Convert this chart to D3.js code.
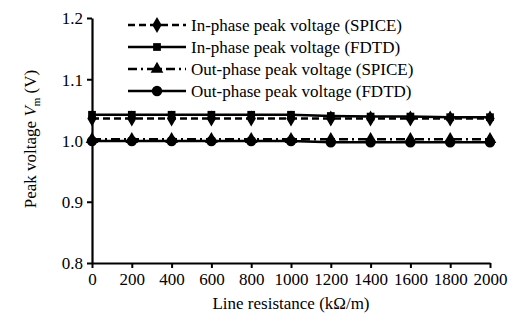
<!DOCTYPE html>
<html><head><meta charset="utf-8">
<script src="https://cdn.jsdelivr.net/npm/d3@7"></script>
<style>body{margin:0;background:#fff}</style>
</head><body><svg id="c" width="531" height="325"></svg>
<script>
const resistance = [0,200,400,600,800,1000,1200,1400,1600,1800,2000];
const inSpice  = [1.036,1.036,1.036,1.036,1.036,1.036,1.036,1.036,1.036,1.036,1.036];
const inFdtd   = [1.042,1.042,1.042,1.042,1.042,1.042,1.040,1.039,1.039,1.038,1.038];
const outSpice = [1.002,1.002,1.002,1.002,1.002,1.002,1.002,1.002,1.002,1.002,1.002];
const outFdtd  = [0.999,0.999,0.999,0.999,0.999,0.999,0.997,0.997,0.997,0.997,0.997];
const xTicks = [0,200,400,600,800,1000,1200,1400,1600,1800,2000];
const yTicks = [0.8,0.9,1.0,1.1,1.2];
const seriesNames = ["In-phase peak voltage (SPICE)","In-phase peak voltage (FDTD)","Out-phase peak voltage (SPICE)","Out-phase peak voltage (FDTD)"];

const svg = d3.select("#c");
const font = "'Liberation Serif','Times New Roman',serif";
const fs = 17;
const x = d3.scaleLinear().domain([0,2000]).range([92,490]);
const y = d3.scaleLinear().domain([0.8,1.2]).range([263,18]);

const series = [
  {name:seriesNames[0], vals:inSpice, dash:"7,4", sym:d3.symbolDiamond, size:75},
  {name:seriesNames[1], vals:inFdtd, dash:null, sym:d3.symbolSquare, size:60},
  {name:seriesNames[2], vals:outSpice, dash:"9,4,2,4", sym:d3.symbolTriangle, size:70},
  {name:seriesNames[3], vals:outFdtd, dash:null, sym:d3.symbolCircle, size:85}
];

const line = d3.line().x((d,i)=>x(resistance[i])).y(d=>y(d));
series.forEach(s=>{
  svg.append("path").attr("d",line(s.vals)).attr("fill","none").attr("stroke","#000")
    .attr("stroke-width",2.5).attr("stroke-dasharray",s.dash);
  svg.selectAll(null).data(s.vals).enter().append("path")
    .attr("d",d3.symbol().type(s.sym).size(s.size))
    .attr("transform",(d,i)=>`translate(${x(resistance[i])},${y(d)})`)
    .attr("fill","#000");
});

// axes
const yAxis = svg.append("g").attr("transform","translate(92,0)")
  .call(d3.axisLeft(y).tickValues(yTicks).tickFormat(d3.format(".1f")).tickSize(5).tickSizeOuter(0));
const xAxis = svg.append("g").attr("transform","translate(0,263)")
  .call(d3.axisBottom(x).tickValues(xTicks).tickFormat(d3.format("d")).tickSize(5).tickSizeOuter(0));
[yAxis,xAxis].forEach(a=>{
  a.select(".domain").attr("stroke","#000").attr("stroke-width",2.2);
  a.selectAll(".tick line").attr("stroke","#000").attr("stroke-width",2);
  a.selectAll("text").attr("font-family",font).attr("font-size",fs).attr("fill","#000");
});
yAxis.selectAll("text").attr("x",-9).attr("dy","0.35em");
xAxis.selectAll("text").attr("y",10).attr("dy","0.71em");

// axis titles
svg.append("text").attr("x",291).attr("y",309).attr("text-anchor","middle")
  .attr("font-family",font).attr("font-size",fs).text("Line resistance (kΩ/m)");
const yt = svg.append("text").attr("transform","translate(36,139) rotate(-90)")
  .attr("text-anchor","middle").attr("font-family",font).attr("font-size",fs);
yt.append("tspan").text("Peak voltage ");
yt.append("tspan").attr("font-style","italic").text("V");
yt.append("tspan").attr("font-size",11).attr("dy",4).text("m");
yt.append("tspan").attr("dy",-4).text(" (V)");

// legend
const ly = [25,47,69,91];
series.forEach((s,i)=>{
  svg.append("line").attr("x1",128).attr("x2",186).attr("y1",ly[i]).attr("y2",ly[i])
    .attr("stroke","#000").attr("stroke-width",2.5).attr("stroke-dasharray",s.dash);
  svg.append("path").attr("d",d3.symbol().type(s.sym).size(s.size)())
    .attr("transform",`translate(157,${ly[i]})`).attr("fill","#000");
  svg.append("text").attr("x",191).attr("y",ly[i]).attr("dy","0.35em")
    .attr("font-family",font).attr("font-size",fs).text(s.name);
});
</script></body></html>
